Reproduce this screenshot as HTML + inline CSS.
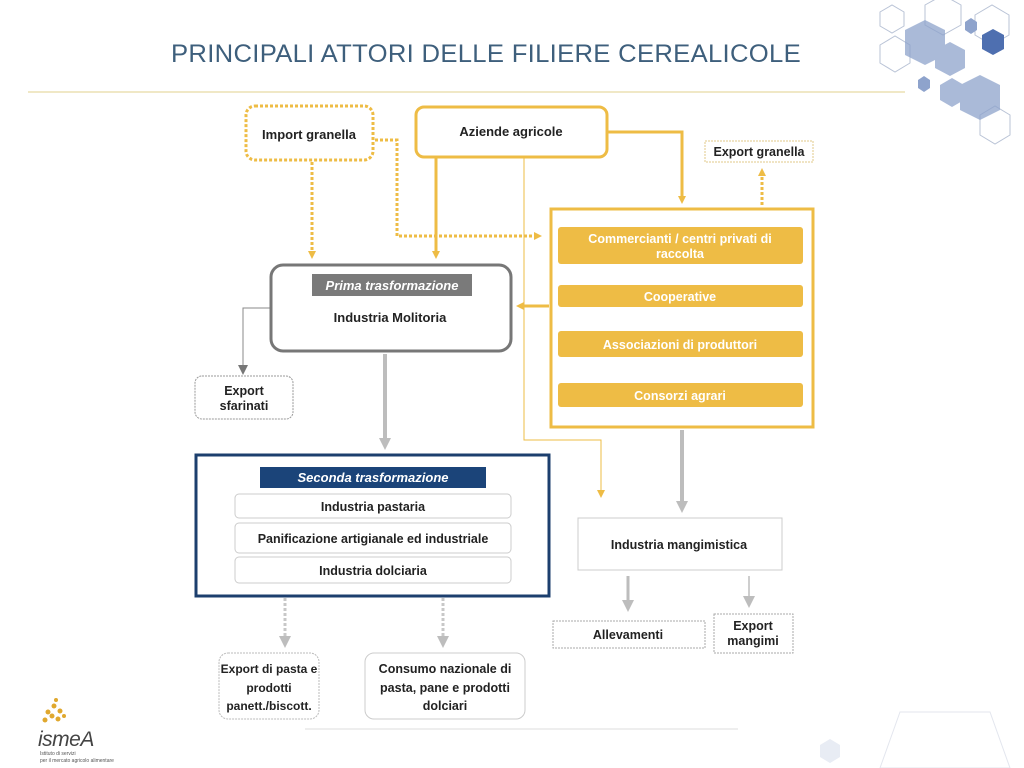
<!DOCTYPE html>
<html><head><meta charset="utf-8"><style>
html,body{margin:0;padding:0;background:#fff;}
svg{display:block;font-family:"Liberation Sans",sans-serif;}
</style></head><body>
<svg width="1024" height="768" viewBox="0 0 1024 768" xmlns="http://www.w3.org/2000/svg">
<defs>
<marker id="ag" markerWidth="8" markerHeight="8" refX="4" refY="4" orient="auto" markerUnits="userSpaceOnUse"><path d="M0,0 L8,4 L0,8 z" fill="#eebc45"/></marker>
<marker id="agr" markerWidth="12" markerHeight="12" refX="6" refY="6" orient="auto" markerUnits="userSpaceOnUse"><path d="M0,0 L12,6 L0,12 z" fill="#bdbdbd"/></marker>
<marker id="ad" markerWidth="10" markerHeight="10" refX="5" refY="5" orient="auto" markerUnits="userSpaceOnUse"><path d="M0,0 L10,5 L0,10 z" fill="#777"/></marker>
</defs>
<g fill="none" stroke="#b9c3d6" stroke-width="1">
<polygon points="880,12 892,5 904,12 904,26 892,33 880,26"/>
<polygon points="925,5 943,-5 961,5 961,25 943,35 925,25"/>
<polygon points="975,15 992,5 1009,15 1009,35 992,45 975,35"/>
<polygon points="880,45 895,36 910,45 910,63 895,72 880,63"/>
<polygon points="980,115 995,106 1010,115 1010,135 995,144 980,135"/>
</g>
<g fill="#8ea3cc" opacity="0.75">
<polygon points="905,30 925,20 945,30 945,55 925,65 905,55"/>
<polygon points="935,50 950,42 965,50 965,68 950,76 935,68"/>
<polygon points="960,85 980,75 1000,85 1000,110 980,120 960,110" />
<polygon points="940,85 952,78 964,85 964,100 952,107 940,100"/>
</g>
<polygon points="982,35 993,29 1004,35 1004,49 993,55 982,49" fill="#4e6fb0"/>
<polygon points="965,22 971,18 977,22 977,30 971,34 965,30" fill="#8ea3cc"/>
<polygon points="918,80 924,76 930,80 930,88 924,92 918,88" fill="#8ea3cc"/>
<g fill="none" stroke="#e3e6ee" stroke-width="1">
<polygon points="900,712 990,712 1010,768 880,768"/>
</g>
<g fill="#e8ecf4"><polygon points="820,745 830,739 840,745 840,757 830,763 820,757"/></g>

<text x="486" y="62" text-anchor="middle" font-size="25" fill="#3e5f7c" letter-spacing="0.3" textLength="630" lengthAdjust="spacingAndGlyphs">PRINCIPALI ATTORI DELLE FILIERE CEREALICOLE</text>
<line x1="28" y1="92" x2="905" y2="92" stroke="#e6d9a3" stroke-width="1.2"/>

<g fill="none">
<path d="M312,162 V255" stroke="#eebc45" stroke-width="3" stroke-dasharray="3,2" marker-end="url(#ag)"/>
<path d="M375,140 H397 V236 H538" stroke="#eebc45" stroke-width="3" stroke-dasharray="3,2" marker-end="url(#ag)"/>
<path d="M436,158 V255" stroke="#eebc45" stroke-width="3" marker-end="url(#ag)"/>
<path d="M608,132 H682 V200" stroke="#eebc45" stroke-width="3" marker-end="url(#ag)"/>
<path d="M524,158 V440 H601 V494" stroke="#eebc45" stroke-width="1" marker-end="url(#ag)"/>
<path d="M762,205 V172" stroke="#eebc45" stroke-width="3" stroke-dasharray="3,2" marker-end="url(#ag)"/>
<path d="M549,306 H520" stroke="#eebc45" stroke-width="3" marker-end="url(#ag)"/>
<path d="M270,308 H243 V370" stroke="#888" stroke-width="1" marker-end="url(#ad)"/>
<path d="M385,354 V444" stroke="#bdbdbd" stroke-width="4" marker-end="url(#agr)"/>
<path d="M682,430 V507" stroke="#bdbdbd" stroke-width="4" marker-end="url(#agr)"/>
<path d="M628,576 V606" stroke="#bdbdbd" stroke-width="3" marker-end="url(#agr)"/>
<path d="M749,576 V602" stroke="#bdbdbd" stroke-width="1.5" marker-end="url(#agr)"/>
<path d="M285,598 V642" stroke="#c8c8c8" stroke-width="3" stroke-dasharray="3,2" marker-end="url(#agr)"/>
<path d="M443,598 V642" stroke="#c8c8c8" stroke-width="3" stroke-dasharray="3,2" marker-end="url(#agr)"/>
</g>

<rect x="246" y="106" width="127" height="54" rx="9" fill="#fff" stroke="#eebc45" stroke-width="3" stroke-dasharray="3,2"/>
<text x="309" y="139" text-anchor="middle" font-size="13" font-weight="bold" fill="#222">Import granella</text>
<rect x="416" y="107" width="191" height="50" rx="8" fill="#fff" stroke="#eebc45" stroke-width="3"/>
<text x="511" y="136" text-anchor="middle" font-size="13" font-weight="bold" fill="#222">Aziende agricole</text>
<rect x="705" y="141" width="108" height="21" fill="#fff" stroke="#e0c98a" stroke-width="1" stroke-dasharray="2,1"/>
<text x="759" y="156" text-anchor="middle" font-size="12.5" font-weight="bold" fill="#222">Export granella</text>

<rect x="551" y="209" width="262" height="218" fill="#fff" stroke="#eebc45" stroke-width="3"/>
<g fill="#eebc45">
<rect x="558" y="227" width="245" height="37" rx="3"/>
<rect x="558" y="285" width="245" height="22" rx="3"/>
<rect x="558" y="331" width="245" height="26" rx="3"/>
<rect x="558" y="383" width="245" height="24" rx="3"/>
</g>
<g fill="#fff" font-size="12.5" font-weight="bold" text-anchor="middle">
<text x="680" y="243">Commercianti / centri privati di</text>
<text x="680" y="258">raccolta</text>
<text x="680" y="301">Cooperative</text>
<text x="680" y="349">Associazioni di produttori</text>
<text x="680" y="400">Consorzi agrari</text>
</g>

<rect x="271" y="265" width="240" height="86" rx="12" fill="#fff" stroke="#777" stroke-width="3"/>
<rect x="312" y="274" width="160" height="22" fill="#7a7a7a"/>
<text x="392" y="290" text-anchor="middle" font-size="13" font-style="italic" font-weight="bold" fill="#fff">Prima trasformazione</text>
<text x="390" y="322" text-anchor="middle" font-size="13" font-weight="bold" fill="#222">Industria Molitoria</text>

<rect x="195" y="376" width="98" height="43" rx="7" fill="#fff" stroke="#999" stroke-width="1" stroke-dasharray="2,1"/>
<text x="244" y="395" text-anchor="middle" font-size="12.5" font-weight="bold" fill="#222">Export</text>
<text x="244" y="410" text-anchor="middle" font-size="12.5" font-weight="bold" fill="#222">sfarinati</text>

<rect x="196" y="455" width="353" height="141" fill="#fff" stroke="#1c3f6e" stroke-width="3"/>
<rect x="260" y="467" width="226" height="21" fill="#1b4479"/>
<text x="373" y="482" text-anchor="middle" font-size="13" font-style="italic" font-weight="bold" fill="#fff">Seconda trasformazione</text>
<g fill="#fff" stroke="#ccc" stroke-width="1">
<rect x="235" y="494" width="276" height="24" rx="4"/>
<rect x="235" y="523" width="276" height="30" rx="4"/>
<rect x="235" y="557" width="276" height="26" rx="4"/>
</g>
<g font-size="12.5" font-weight="bold" fill="#222" text-anchor="middle">
<text x="373" y="511">Industria pastaria</text>
<text x="373" y="543">Panificazione artigianale ed industriale</text>
<text x="373" y="575">Industria dolciaria</text>
</g>

<rect x="578" y="518" width="204" height="52" fill="#fff" stroke="#ccc" stroke-width="1"/>
<text x="679" y="549" text-anchor="middle" font-size="12.5" font-weight="bold" fill="#222">Industria mangimistica</text>
<rect x="553" y="621" width="152" height="27" fill="#fff" stroke="#aaa" stroke-width="1" stroke-dasharray="2,1"/>
<text x="628" y="639" text-anchor="middle" font-size="12.5" font-weight="bold" fill="#222">Allevamenti</text>
<rect x="714" y="614" width="79" height="39" fill="#fff" stroke="#aaa" stroke-width="1" stroke-dasharray="2,1"/>
<text x="753" y="630" text-anchor="middle" font-size="12.5" font-weight="bold" fill="#222">Export</text>
<text x="753" y="645" text-anchor="middle" font-size="12.5" font-weight="bold" fill="#222">mangimi</text>

<rect x="219" y="653" width="100" height="66" rx="9" fill="#fff" stroke="#bbb" stroke-width="1" stroke-dasharray="2,1"/>
<g font-size="12" font-weight="bold" fill="#222" text-anchor="middle">
<text x="269" y="673">Export di pasta e</text>
<text x="269" y="692">prodotti</text>
<text x="269" y="710">panett./biscott.</text>
</g>
<rect x="365" y="653" width="160" height="66" rx="9" fill="#fff" stroke="#ccc" stroke-width="1"/>
<g font-size="12.5" font-weight="bold" fill="#222" text-anchor="middle">
<text x="445" y="673">Consumo  nazionale di</text>
<text x="445" y="692">pasta, pane e prodotti</text>
<text x="445" y="710">dolciari</text>
</g>
<line x1="305" y1="729" x2="738" y2="729" stroke="#ddd" stroke-width="1"/>

<g fill="#e0a82e">
<circle cx="48" cy="712" r="2.5"/><circle cx="54" cy="706" r="2.5"/><circle cx="60" cy="711" r="2.5"/>
<circle cx="45" cy="720" r="2.5"/><circle cx="52" cy="716" r="2.5"/><circle cx="58" cy="719" r="2.5"/>
<circle cx="64" cy="716" r="2"/><circle cx="56" cy="700" r="2"/>
</g>
<text x="38" y="746" font-size="21" font-style="italic" fill="#444" letter-spacing="-0.5">ismeA</text>
<text x="40" y="755" font-size="5" fill="#555">Istituto di servizi</text>
<text x="40" y="762" font-size="5" fill="#555">per il mercato agricolo alimentare</text>
</svg>
</body></html>
